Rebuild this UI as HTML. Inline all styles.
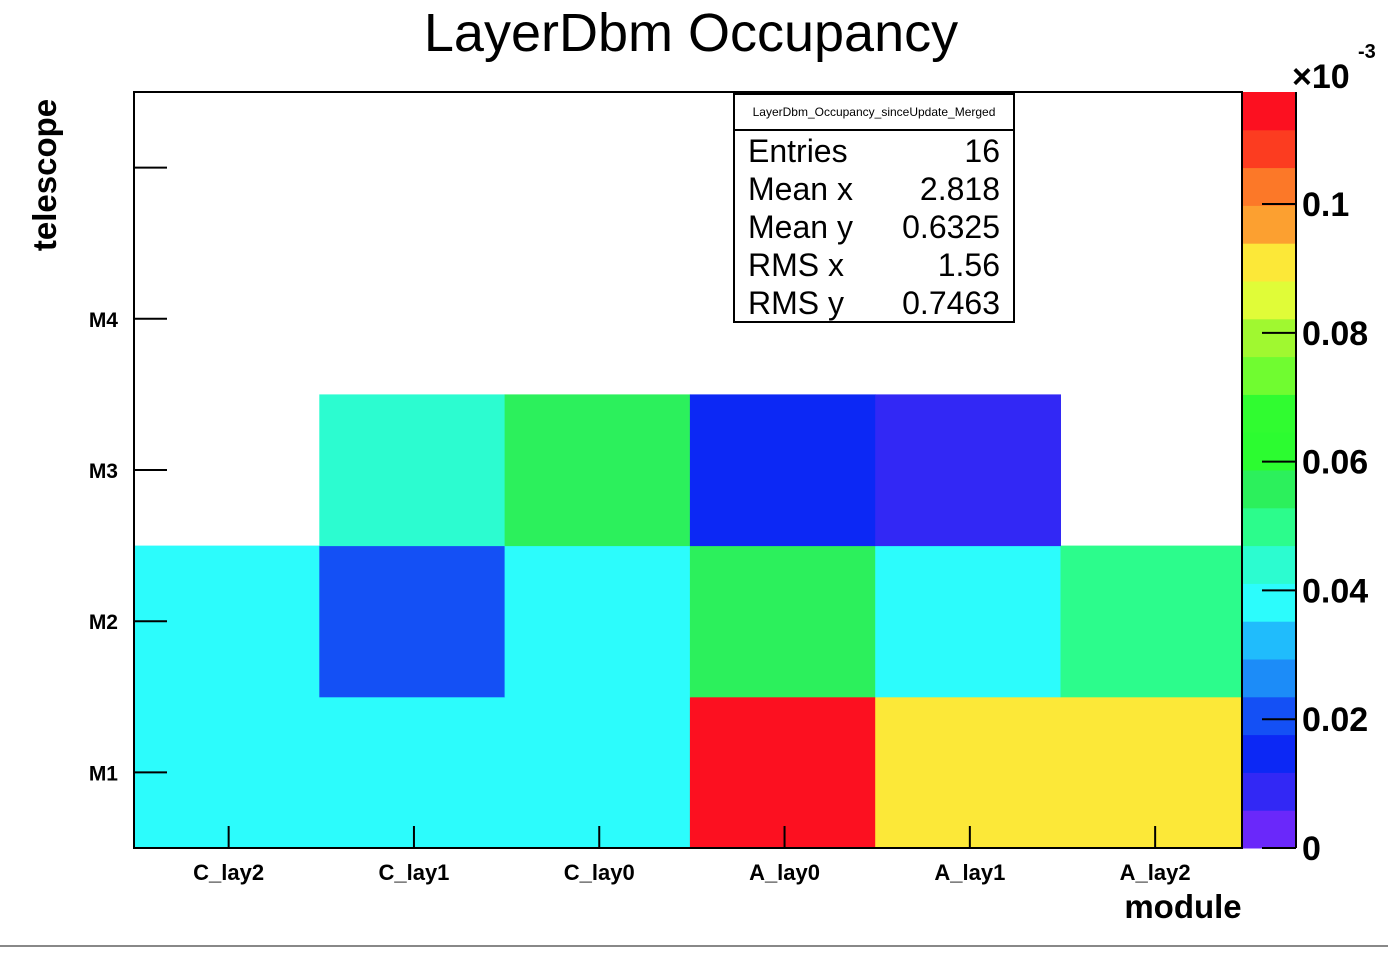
<!DOCTYPE html>
<html><head><meta charset="utf-8"><style>
body{margin:0;background:#fff;width:1388px;height:950px;overflow:hidden;font-family:"Liberation Sans",sans-serif}
</style></head><body>
<svg width="1388" height="950" xmlns="http://www.w3.org/2000/svg">
<text x="691" y="51" text-anchor="middle" font-size="54" font-family="Liberation Sans">LayerDbm Occupancy</text>
<g id="cells"></g>
<g id="pal"></g>
<rect x="134" y="92" width="1108" height="756" fill="none" stroke="#000" stroke-width="2"/>
<g id="axes" font-weight="bold" font-family="Liberation Sans"></g>
<text x="1183" y="918" text-anchor="middle" font-size="33" font-weight="bold">module</text>
<text transform="translate(56,175) rotate(-90)" text-anchor="middle" font-size="33" font-weight="bold">telescope</text>
<text x="1292" y="88" font-size="34" font-weight="bold">×10</text>
<text x="1358" y="58" font-size="20" font-weight="bold">-3</text>
<g>
<rect x="734" y="94" width="280" height="228" fill="#fff" stroke="#000" stroke-width="2"/>
<line x1="734" y1="130" x2="1014" y2="130" stroke="#000" stroke-width="2"/>
<text x="874" y="116" text-anchor="middle" font-size="12">LayerDbm_Occupancy_sinceUpdate_Merged</text>
<g font-size="32">
<text x="748" y="162">Entries</text><text x="1000" y="162" text-anchor="end">16</text>
<text x="748" y="200">Mean x</text><text x="1000" y="200" text-anchor="end">2.818</text>
<text x="748" y="238">Mean y</text><text x="1000" y="238" text-anchor="end">0.6325</text>
<text x="748" y="276">RMS x</text><text x="1000" y="276" text-anchor="end">1.56</text>
<text x="748" y="314">RMS y</text><text x="1000" y="314" text-anchor="end">0.7463</text>
</g></g>
<line x1="0" y1="946" x2="1388" y2="946" stroke="#888" stroke-width="2"/>
</svg>
<script>
const modules = ["C_lay2","C_lay1","C_lay0","A_lay0","A_lay1","A_lay2"];
const telescopes = ["M1","M2","M3","M4",""];
const rowM1 = [0.037,0.037,0.037,0.115,0.090,0.090];
const rowM2 = [0.037,0.020,0.037,0.055,0.037,0.049];
const rowM3 = [null,0.043,0.055,0.013,0.008,null];
const rowM4 = [null,null,null,null,null,null];
const zTicks = [0,0.02,0.04,0.06,0.08,0.1];
const zMax = 0.1174;
const palette = ["#6a28fa","#3228f5","#0c28f5","#1450f5","#1c8cf8","#20bcfc","#2cfcfc","#2cfcd0","#2cfc8c","#2cf05c","#2cfc30","#30fc30","#70fc30","#a0f830","#e0fc38","#fce838","#fca030","#fc7828","#fc3c20","#fc1020"];
const NS="http://www.w3.org/2000/svg";
const X0=134,X1=1242,Y0=92,Y1=848;
const cw=185.3, rh=(Y1-Y0)/telescopes.length;
const xs=i=>X0+i*cw, ys=j=>Y1-(j+1)*rh;
const zy=v=>Y1-(v/zMax)*(Y1-Y0);
function col(v){let b=Math.floor(v/zMax*20);return palette[Math.max(0,Math.min(19,b))];}
function mk(t,a){const e=document.createElementNS(NS,t);for(const k in a)e.setAttribute(k,a[k]);return e;}
const cells=document.getElementById('cells');
[rowM1,rowM2,rowM3,rowM4].forEach((row,j)=>row.forEach((v,i)=>{
 if(v==null)return;
 const x=xs(i), w=Math.min(X1,xs(i+1))-x;
 const r=mk('rect',{x:x,y:ys(j),width:w+0.5,height:rh+0.5,fill:col(v)});
 
 
 cells.appendChild(r);
}));
const pal=document.getElementById('pal');
palette.forEach((c,k)=>{
 const h=(Y1-Y0)/20;
 const r=mk('rect',{x:1242,y:Y1-(k+1)*h,width:54,height:h+0.5,fill:c});
 
 
 pal.appendChild(r);
});
pal.appendChild(mk('line',{x1:1296,y1:Y0,x2:1296,y2:Y1,stroke:'#000','stroke-width':2}));
const ax=document.getElementById('axes');
modules.forEach((m,i)=>{
 const cx=xs(i)+cw/2+2;
 ax.appendChild(mk('line',{x1:cx,y1:Y1,x2:cx,y2:Y1-22,stroke:'#000','stroke-width':2}));
 const t=mk('text',{x:cx,y:880,'text-anchor':'middle','font-size':22});t.textContent=m;
 
 
 ax.appendChild(t);
});
telescopes.forEach((m,j)=>{
 const cy=ys(j)+rh/2;
 ax.appendChild(mk('line',{x1:X0,y1:cy,x2:X0+33,y2:cy,stroke:'#000','stroke-width':2}));
 const t=mk('text',{x:118,y:cy+8,'text-anchor':'end','font-size':21});t.textContent=m;
 
 
 ax.appendChild(t);
});
zTicks.forEach(v=>{
 const y=zy(v);
 ax.appendChild(mk('line',{x1:1262,y1:y,x2:1296,y2:y,stroke:'#000','stroke-width':2}));
 const t=mk('text',{x:1302,y:y+12,'font-size':34});t.textContent=String(v);
 
 
 ax.appendChild(t);
});
</script>
</body></html>
